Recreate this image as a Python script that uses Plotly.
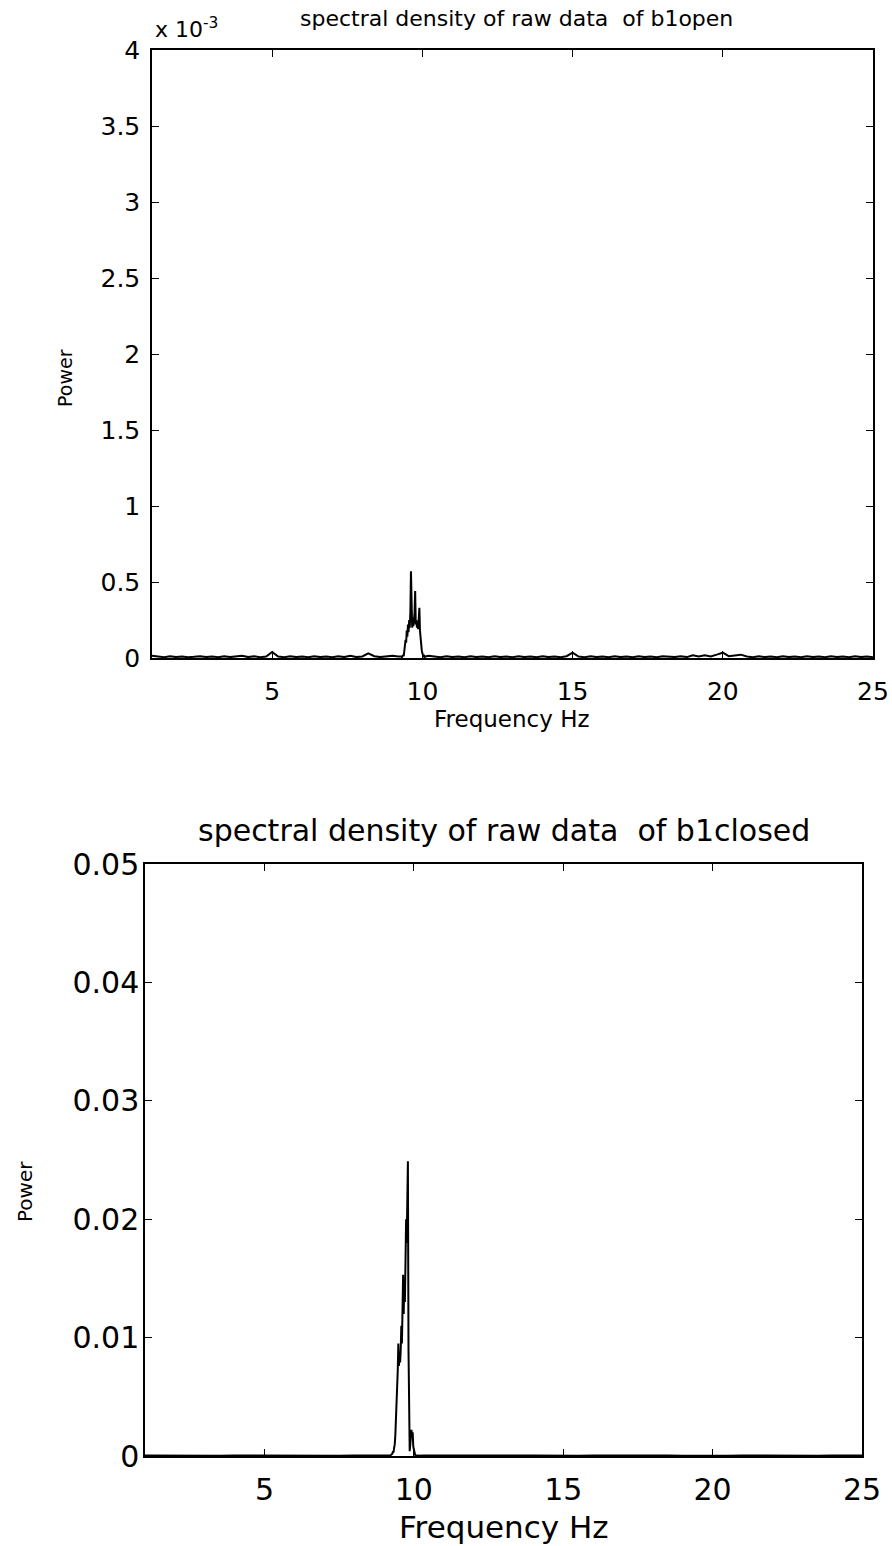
import numpy as np
import plotly.graph_objects as go

W, H = 892, 1546

# ---------------- data: b1open (power in units of 1e-3) ----------------
open_low_f = np.round(np.arange(1.0, 9.2 + 1e-9, 0.2), 2)
open_low_p = [0.015, 0.010, 0.005, 0.012, 0.006, 0.010, 0.005, 0.008, 0.012, 0.006,
              0.010, 0.005, 0.012, 0.006, 0.010, 0.015, 0.006, 0.012, 0.005, 0.010,
              0.040, 0.010, 0.005, 0.012, 0.006, 0.010, 0.005, 0.012, 0.006, 0.010,
              0.005, 0.012, 0.006, 0.015, 0.006, 0.010, 0.030, 0.012, 0.006, 0.010,
              0.015, 0.010]
open_peak_f = np.round(np.arange(9.30, 10.10 + 1e-9, 0.02), 2)
open_peak_p = [0.010, 0.005, 0.012, 0.020, 0.012,
               0.04, 0.08, 0.12, 0.10, 0.18,
               0.14, 0.22, 0.17, 0.25, 0.20,
               0.30, 0.57, 0.24, 0.20, 0.26,
               0.21, 0.25, 0.30, 0.44, 0.22,
               0.25, 0.20, 0.24, 0.19, 0.26,
               0.33, 0.18, 0.12, 0.08, 0.05,
               0.03, 0.02, 0.012, 0.015, 0.006,
               0.010]
open_high_f = np.round(np.arange(10.2, 25.0 + 1e-9, 0.2), 2)
open_high_p = [0.015, 0.010, 0.005, 0.012, 0.006, 0.010, 0.005, 0.012, 0.006, 0.010,
               0.005, 0.012, 0.006, 0.010, 0.005, 0.012, 0.006, 0.010, 0.005, 0.012,
               0.006, 0.010, 0.005, 0.012, 0.035, 0.010, 0.005, 0.012, 0.006, 0.010,
               0.005, 0.012, 0.006, 0.010, 0.005, 0.012, 0.006, 0.010, 0.005, 0.012,
               0.010, 0.006, 0.012, 0.006, 0.018, 0.010, 0.018, 0.010, 0.022, 0.035,
               0.012, 0.018, 0.022, 0.010, 0.005, 0.012, 0.006, 0.010, 0.005, 0.012,
               0.006, 0.010, 0.005, 0.012, 0.006, 0.010, 0.005, 0.012, 0.006, 0.010,
               0.005, 0.012, 0.006, 0.010, 0.005]

# ---------------- data: b1closed (power) ----------------
closed_low_f = np.round(np.arange(1.0, 9.0 + 1e-9, 0.5), 2)
closed_low_p = [0.00004, 0.00003, 0.00005, 0.00003, 0.00004, 0.00003, 0.00005, 0.00004,
                0.00003, 0.00004, 0.00003, 0.00005, 0.00004, 0.00003, 0.00004, 0.00003,
                0.00004]
closed_peak_f = np.round(np.arange(9.10, 10.30 + 1e-9, 0.02), 2)
closed_peak_p = [0.00003, 0.00005, 0.00003, 0.00006, 0.00004,
                 0.00008, 0.00006, 0.0001, 0.00015, 0.0002,
                 0.0004, 0.0003, 0.0007, 0.0010, 0.0018,
                 0.0030, 0.0045, 0.0060, 0.0072, 0.0095,
                 0.0076, 0.0088, 0.0079, 0.0090, 0.0110,
                 0.0095, 0.0140, 0.0153, 0.0120, 0.0150,
                 0.0130, 0.0170, 0.0200, 0.0180, 0.0230,
                 0.0249, 0.0090, 0.0020, 0.0004, 0.0010,
                 0.0018, 0.0022, 0.0016, 0.0020, 0.0008,
                 0.0004, 0.0002, 0.0001, 0.00006, 0.00004,
                 0.00005, 0.00003, 0.00004, 0.00003, 0.00005,
                 0.00003, 0.00004, 0.00003, 0.00004, 0.00003,
                 0.00004]
closed_high_f = np.round(np.arange(10.5, 25.0 + 1e-9, 0.5), 2)
closed_high_p = [0.00004, 0.00003, 0.00005, 0.00003, 0.00004, 0.00003, 0.00004, 0.00005,
                 0.00003, 0.00004, 0.00003, 0.00004, 0.00005, 0.00003, 0.00004, 0.00003,
                 0.00004, 0.00003, 0.00005, 0.00004, 0.00003, 0.00004, 0.00003, 0.00004,
                 0.00003, 0.00004, 0.00003, 0.00005, 0.00003, 0.00004]

x_ticks = [5, 10, 15, 20, 25]
open_y_ticks = [0, 0.5, 1, 1.5, 2, 2.5, 3, 3.5, 4]
open_y_text = ["0", "0.5", "1", "1.5", "2", "2.5", "3", "3.5", "4"]
closed_y_ticks = [0, 0.01, 0.02, 0.03, 0.04, 0.05]
closed_y_text = ["0", "0.01", "0.02", "0.03", "0.04", "0.05"]

open_f = np.concatenate([open_low_f, open_peak_f, open_high_f])
open_p = np.array(open_low_p + open_peak_p + open_high_p)
closed_f = np.concatenate([closed_low_f, closed_peak_f, closed_high_f])
closed_p = np.array(closed_low_p + closed_peak_p + closed_high_p)


def px(x):
    return x / W


def py(y):
    return 1 - y / H


FONT = "DejaVu Sans, Liberation Sans, sans-serif"

fig = go.Figure()
fig.add_trace(go.Scatter(x=open_f, y=open_p, mode="lines",
                         line=dict(color="black", width=2),
                         xaxis="x", yaxis="y", showlegend=False))
fig.add_trace(go.Scatter(x=closed_f, y=closed_p, mode="lines",
                         line=dict(color="black", width=2),
                         xaxis="x2", yaxis="y2", showlegend=False))

axis_common = dict(showline=True, linecolor="black", linewidth=1.5, mirror="ticks",
                   ticks="inside", ticklen=7, tickwidth=1.2, tickcolor="black",
                   showgrid=False, zeroline=False, automargin=False)

fig.update_layout(
    width=W, height=H,
    margin=dict(l=0, r=0, t=0, b=0),
    paper_bgcolor="white", plot_bgcolor="white",
    font=dict(family=FONT, color="black"),
    xaxis=dict(domain=[px(152), px(873)], anchor="y", range=[1, 25],
               tickvals=x_ticks, tickfont=dict(size=25), ticklabelstandoff=10,
               **axis_common),
    yaxis=dict(domain=[py(658), py(50)], anchor="x", range=[0, 4],
               tickvals=open_y_ticks, ticktext=open_y_text,
               tickfont=dict(size=25), ticklabelstandoff=5, **axis_common),
    xaxis2=dict(domain=[px(145), px(862)], anchor="y2", range=[1, 25],
                tickvals=x_ticks, tickfont=dict(size=30), ticklabelstandoff=6,
                **axis_common),
    yaxis2=dict(domain=[py(1456), py(864)], anchor="x2", range=[0, 0.05],
                tickvals=closed_y_ticks, ticktext=closed_y_text,
                tickfont=dict(size=30), ticklabelstandoff=-2, **axis_common),
)

annots = [
    dict(text="spectral density of raw data&nbsp;&nbsp;of b1open", x=px(516), y=py(18),
         font=dict(size=22)),
    dict(text="x 10<sup>-3</sup>", x=px(153), y=py(28), xanchor="left", font=dict(size=22)),
    dict(text="Frequency Hz", x=px(512), y=py(719), font=dict(size=23)),
    dict(text="Power", x=px(65), y=py(378), textangle=-90, font=dict(size=19)),
    dict(text="spectral density of raw data&nbsp;&nbsp;of b1closed", x=px(504), y=py(830),
         font=dict(size=30)),
    dict(text="Power", x=px(25), y=py(1192), textangle=-90, font=dict(size=20)),
]
for a in annots:
    a.setdefault("xanchor", "center")
    fig.add_annotation(xref="paper", yref="paper", showarrow=False, yanchor="middle", **a)

fig.add_annotation(text="Frequency Hz", xref="paper", yref="paper", x=px(504), y=0,
                   xanchor="center", yanchor="bottom", showarrow=False,
                   font=dict(size=31), borderpad=0)

fig.write_html(
    "out.html",
    post_script="document.body.style.margin='0';document.body.style.overflow='hidden';",
)
